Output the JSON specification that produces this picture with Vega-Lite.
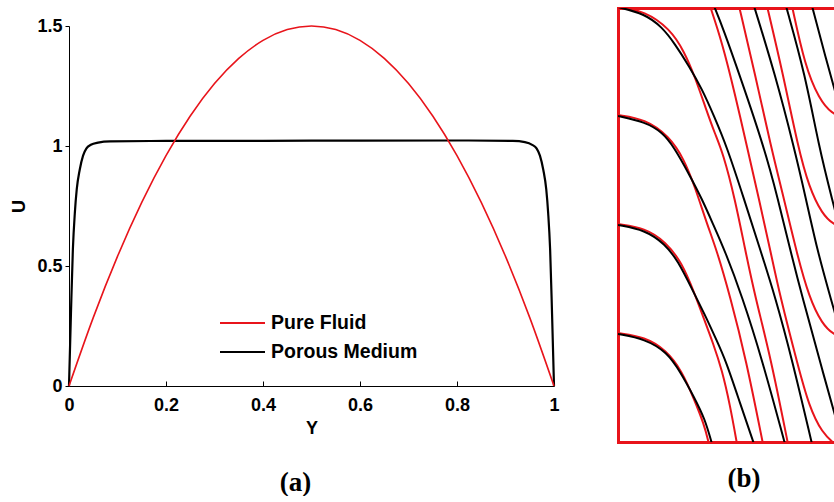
{
  "$schema": "https://vega.github.io/schema/vega-lite/v6.json",
  "background": "white",
  "padding": {"left": 10, "top": 8, "right": 0, "bottom": 0},
  "bounds": "flush",
  "spacing": 64,
  "config": {"view": {"stroke": null}, "font": "Liberation Sans", "axis": {"labelFont": "Liberation Sans", "titleFont": "Liberation Sans"}},
  "resolve": {"scale": {"color": "independent"}, "legend": {"color": "independent"}},
  "hconcat": [
    {
      "width": 485,
      "height": 378,
      "title": {"text": "(a)", "orient": "bottom", "anchor": "middle", "frame": "group", "font": "Liberation Serif", "fontSize": 27, "fontWeight": "bold", "color": "black", "offset": 33, "dx": -16},
      "data": {"values": [
        {"series": "Pure Fluid", "Y": 0, "U": 0},
        {"series": "Pure Fluid", "Y": 0.05, "U": 0.285},
        {"series": "Pure Fluid", "Y": 0.1, "U": 0.54},
        {"series": "Pure Fluid", "Y": 0.15, "U": 0.765},
        {"series": "Pure Fluid", "Y": 0.2, "U": 0.96},
        {"series": "Pure Fluid", "Y": 0.25, "U": 1.125},
        {"series": "Pure Fluid", "Y": 0.3, "U": 1.26},
        {"series": "Pure Fluid", "Y": 0.35, "U": 1.365},
        {"series": "Pure Fluid", "Y": 0.4, "U": 1.44},
        {"series": "Pure Fluid", "Y": 0.45, "U": 1.485},
        {"series": "Pure Fluid", "Y": 0.5, "U": 1.5},
        {"series": "Pure Fluid", "Y": 0.55, "U": 1.485},
        {"series": "Pure Fluid", "Y": 0.6, "U": 1.44},
        {"series": "Pure Fluid", "Y": 0.65, "U": 1.365},
        {"series": "Pure Fluid", "Y": 0.7, "U": 1.26},
        {"series": "Pure Fluid", "Y": 0.75, "U": 1.125},
        {"series": "Pure Fluid", "Y": 0.8, "U": 0.96},
        {"series": "Pure Fluid", "Y": 0.85, "U": 0.765},
        {"series": "Pure Fluid", "Y": 0.9, "U": 0.54},
        {"series": "Pure Fluid", "Y": 0.95, "U": 0.285},
        {"series": "Pure Fluid", "Y": 1, "U": 0},
        {"series": "Porous Medium", "Y": 0, "U": 0},
        {"series": "Porous Medium", "Y": 0.004, "U": 0.3},
        {"series": "Porous Medium", "Y": 0.008, "U": 0.57},
        {"series": "Porous Medium", "Y": 0.012, "U": 0.72},
        {"series": "Porous Medium", "Y": 0.016, "U": 0.82},
        {"series": "Porous Medium", "Y": 0.022, "U": 0.9},
        {"series": "Porous Medium", "Y": 0.029, "U": 0.96},
        {"series": "Porous Medium", "Y": 0.036, "U": 0.99},
        {"series": "Porous Medium", "Y": 0.045, "U": 1.005},
        {"series": "Porous Medium", "Y": 0.06, "U": 1.014},
        {"series": "Porous Medium", "Y": 0.085, "U": 1.019},
        {"series": "Porous Medium", "Y": 0.2, "U": 1.021},
        {"series": "Porous Medium", "Y": 0.5, "U": 1.022},
        {"series": "Porous Medium", "Y": 0.8, "U": 1.023},
        {"series": "Porous Medium", "Y": 0.915, "U": 1.021},
        {"series": "Porous Medium", "Y": 0.94, "U": 1.016},
        {"series": "Porous Medium", "Y": 0.955, "U": 1.005},
        {"series": "Porous Medium", "Y": 0.964, "U": 0.99},
        {"series": "Porous Medium", "Y": 0.971, "U": 0.96},
        {"series": "Porous Medium", "Y": 0.978, "U": 0.9},
        {"series": "Porous Medium", "Y": 0.984, "U": 0.82},
        {"series": "Porous Medium", "Y": 0.988, "U": 0.72},
        {"series": "Porous Medium", "Y": 0.992, "U": 0.57},
        {"series": "Porous Medium", "Y": 0.996, "U": 0.3},
        {"series": "Porous Medium", "Y": 1, "U": 0}
      ]},
      "encoding": {
        "x": {"field": "Y", "type": "quantitative",
          "scale": {"domain": [0, 1], "nice": false},
          "axis": {"title": "Y", "values": [0, 0.2, 0.4, 0.6, 0.8, 1], "format": "~g", "grid": false,
            "domainColor": "black", "tickColor": "black", "tickSize": -5, "labelPadding": 15,
            "labelFontSize": 18, "labelFontWeight": "bold", "labelColor": "black", "labelFlush": false, "labelOverlap": false,
            "titleFontSize": 18, "titleFontWeight": "bold", "titleColor": "black", "titlePadding": 5}},
        "y": {"field": "U", "type": "quantitative",
          "scale": {"domain": [0, 1.5], "range": [378, 18], "nice": false},
          "axis": {"title": "U", "values": [0, 0.5, 1, 1.5], "format": "~g", "grid": false,
            "domainColor": "black", "tickColor": "black", "tickSize": 4, "labelPadding": 3,
            "labelFontSize": 18, "labelFontWeight": "bold", "labelColor": "black", "labelFlush": false, "labelOverlap": false,
            "titleFontSize": 18, "titleFontWeight": "bold", "titleColor": "black", "titlePadding": 8}},
        "color": {"field": "series", "type": "nominal",
          "scale": {"domain": ["Pure Fluid", "Porous Medium"], "range": ["#e8141b", "#000000"]},
          "legend": {"title": null, "orient": "none", "legendX": 150, "legendY": 306, "padding": 0,
            "symbolType": "stroke", "symbolSize": 2025, "symbolStrokeWidth": 2, "clipHeight": 18, "rowPadding": 9,
            "labelFontSize": 19.5, "labelFontWeight": "bold", "labelColor": "black", "labelOffset": 5, "labelFont": "Liberation Sans"}}
      },
      "layer": [
        {"transform": [{"filter": "datum.series === 'Porous Medium'"}], "mark": {"type": "line", "strokeWidth": 2.2, "interpolate": "monotone"}},
        {"transform": [{"filter": "datum.series === 'Pure Fluid'"}], "mark": {"type": "line", "strokeWidth": 1.6, "interpolate": "monotone"}}
      ]
    },
    {
      "width": 216,
      "height": 434,
      "title": {"text": "(b)", "orient": "bottom", "anchor": "middle", "frame": "group", "font": "Liberation Serif", "fontSize": 27, "fontWeight": "bold", "color": "black", "offset": 24, "dx": 18},
      "data": {"values": [
        {"line": "rA", "kind": "Pure Fluid", "i": 0, "x": 0, "y": -1},
        {"line": "rA", "kind": "Pure Fluid", "i": 1, "x": 27, "y": 3},
        {"line": "rA", "kind": "Pure Fluid", "i": 2, "x": 52, "y": 21},
        {"line": "rA", "kind": "Pure Fluid", "i": 3, "x": 66, "y": 43},
        {"line": "rA", "kind": "Pure Fluid", "i": 4, "x": 77, "y": 69},
        {"line": "rA", "kind": "Pure Fluid", "i": 5, "x": 88, "y": 101},
        {"line": "rA", "kind": "Pure Fluid", "i": 6, "x": 97, "y": 126},
        {"line": "rA", "kind": "Pure Fluid", "i": 7, "x": 105, "y": 145},
        {"line": "rA", "kind": "Pure Fluid", "i": 8, "x": 117, "y": 191},
        {"line": "rA", "kind": "Pure Fluid", "i": 9, "x": 127, "y": 241},
        {"line": "rA", "kind": "Pure Fluid", "i": 10, "x": 137, "y": 288},
        {"line": "rA", "kind": "Pure Fluid", "i": 11, "x": 153, "y": 351},
        {"line": "rA", "kind": "Pure Fluid", "i": 12, "x": 170, "y": 436},
        {"line": "rB", "kind": "Pure Fluid", "i": 0, "x": 0, "y": 107},
        {"line": "rB", "kind": "Pure Fluid", "i": 1, "x": 27, "y": 111},
        {"line": "rB", "kind": "Pure Fluid", "i": 2, "x": 51, "y": 128},
        {"line": "rB", "kind": "Pure Fluid", "i": 3, "x": 66, "y": 151},
        {"line": "rB", "kind": "Pure Fluid", "i": 4, "x": 77, "y": 179},
        {"line": "rB", "kind": "Pure Fluid", "i": 5, "x": 89, "y": 216},
        {"line": "rB", "kind": "Pure Fluid", "i": 6, "x": 99, "y": 243},
        {"line": "rB", "kind": "Pure Fluid", "i": 7, "x": 112, "y": 288},
        {"line": "rB", "kind": "Pure Fluid", "i": 8, "x": 128, "y": 351},
        {"line": "rB", "kind": "Pure Fluid", "i": 9, "x": 145, "y": 436},
        {"line": "rC", "kind": "Pure Fluid", "i": 0, "x": 0, "y": 216},
        {"line": "rC", "kind": "Pure Fluid", "i": 1, "x": 27, "y": 220},
        {"line": "rC", "kind": "Pure Fluid", "i": 2, "x": 48, "y": 234},
        {"line": "rC", "kind": "Pure Fluid", "i": 3, "x": 64, "y": 255},
        {"line": "rC", "kind": "Pure Fluid", "i": 4, "x": 76, "y": 284},
        {"line": "rC", "kind": "Pure Fluid", "i": 5, "x": 86, "y": 311},
        {"line": "rC", "kind": "Pure Fluid", "i": 6, "x": 95, "y": 335},
        {"line": "rC", "kind": "Pure Fluid", "i": 7, "x": 104, "y": 362},
        {"line": "rC", "kind": "Pure Fluid", "i": 8, "x": 112, "y": 397},
        {"line": "rC", "kind": "Pure Fluid", "i": 9, "x": 119, "y": 436},
        {"line": "rD", "kind": "Pure Fluid", "i": 0, "x": 0, "y": 325},
        {"line": "rD", "kind": "Pure Fluid", "i": 1, "x": 27, "y": 329},
        {"line": "rD", "kind": "Pure Fluid", "i": 2, "x": 48, "y": 342},
        {"line": "rD", "kind": "Pure Fluid", "i": 3, "x": 64, "y": 363},
        {"line": "rD", "kind": "Pure Fluid", "i": 4, "x": 76, "y": 391},
        {"line": "rD", "kind": "Pure Fluid", "i": 5, "x": 86, "y": 416},
        {"line": "rD", "kind": "Pure Fluid", "i": 6, "x": 91, "y": 436},
        {"line": "rT1", "kind": "Pure Fluid", "i": 0, "x": 92, "y": -2},
        {"line": "rT1", "kind": "Pure Fluid", "i": 1, "x": 104, "y": 34},
        {"line": "rT1", "kind": "Pure Fluid", "i": 2, "x": 117, "y": 86},
        {"line": "rT1", "kind": "Pure Fluid", "i": 3, "x": 129, "y": 139},
        {"line": "rT1", "kind": "Pure Fluid", "i": 4, "x": 141, "y": 191},
        {"line": "rT1", "kind": "Pure Fluid", "i": 5, "x": 152, "y": 241},
        {"line": "rT1", "kind": "Pure Fluid", "i": 6, "x": 162, "y": 288},
        {"line": "rT1", "kind": "Pure Fluid", "i": 7, "x": 180, "y": 358},
        {"line": "rT1", "kind": "Pure Fluid", "i": 8, "x": 191, "y": 398},
        {"line": "rT1", "kind": "Pure Fluid", "i": 9, "x": 204, "y": 425},
        {"line": "rT1", "kind": "Pure Fluid", "i": 10, "x": 218, "y": 437},
        {"line": "rT2", "kind": "Pure Fluid", "i": 0, "x": 121, "y": -2},
        {"line": "rT2", "kind": "Pure Fluid", "i": 1, "x": 137, "y": 66},
        {"line": "rT2", "kind": "Pure Fluid", "i": 2, "x": 153, "y": 139},
        {"line": "rT2", "kind": "Pure Fluid", "i": 3, "x": 166, "y": 191},
        {"line": "rT2", "kind": "Pure Fluid", "i": 4, "x": 179, "y": 246},
        {"line": "rT2", "kind": "Pure Fluid", "i": 5, "x": 191, "y": 289},
        {"line": "rT2", "kind": "Pure Fluid", "i": 6, "x": 204, "y": 316},
        {"line": "rT2", "kind": "Pure Fluid", "i": 7, "x": 216, "y": 327},
        {"line": "rT2", "kind": "Pure Fluid", "i": 8, "x": 227, "y": 330},
        {"line": "rT3", "kind": "Pure Fluid", "i": 0, "x": 149, "y": -2},
        {"line": "rT3", "kind": "Pure Fluid", "i": 1, "x": 165, "y": 66},
        {"line": "rT3", "kind": "Pure Fluid", "i": 2, "x": 180, "y": 139},
        {"line": "rT3", "kind": "Pure Fluid", "i": 3, "x": 191, "y": 179},
        {"line": "rT3", "kind": "Pure Fluid", "i": 4, "x": 204, "y": 206},
        {"line": "rT3", "kind": "Pure Fluid", "i": 5, "x": 216, "y": 217},
        {"line": "rT3", "kind": "Pure Fluid", "i": 6, "x": 227, "y": 220},
        {"line": "rT4", "kind": "Pure Fluid", "i": 0, "x": 174, "y": -2},
        {"line": "rT4", "kind": "Pure Fluid", "i": 1, "x": 187, "y": 58},
        {"line": "rT4", "kind": "Pure Fluid", "i": 2, "x": 201, "y": 91},
        {"line": "rT4", "kind": "Pure Fluid", "i": 3, "x": 214, "y": 106},
        {"line": "rT4", "kind": "Pure Fluid", "i": 4, "x": 227, "y": 110},
        {"line": "bA", "kind": "Porous Medium", "i": 0, "x": 0, "y": -1},
        {"line": "bA", "kind": "Porous Medium", "i": 1, "x": 27, "y": 6},
        {"line": "bA", "kind": "Porous Medium", "i": 2, "x": 44, "y": 19},
        {"line": "bA", "kind": "Porous Medium", "i": 3, "x": 57, "y": 36},
        {"line": "bA", "kind": "Porous Medium", "i": 4, "x": 71, "y": 58},
        {"line": "bA", "kind": "Porous Medium", "i": 5, "x": 84, "y": 81},
        {"line": "bA", "kind": "Porous Medium", "i": 6, "x": 96, "y": 108},
        {"line": "bA", "kind": "Porous Medium", "i": 7, "x": 109, "y": 139},
        {"line": "bA", "kind": "Porous Medium", "i": 8, "x": 126, "y": 191},
        {"line": "bA", "kind": "Porous Medium", "i": 9, "x": 142, "y": 241},
        {"line": "bA", "kind": "Porous Medium", "i": 10, "x": 157, "y": 288},
        {"line": "bA", "kind": "Porous Medium", "i": 11, "x": 174, "y": 351},
        {"line": "bA", "kind": "Porous Medium", "i": 12, "x": 194, "y": 436},
        {"line": "bB", "kind": "Porous Medium", "i": 0, "x": 0, "y": 108},
        {"line": "bB", "kind": "Porous Medium", "i": 1, "x": 27, "y": 114},
        {"line": "bB", "kind": "Porous Medium", "i": 2, "x": 44, "y": 124},
        {"line": "bB", "kind": "Porous Medium", "i": 3, "x": 56, "y": 139},
        {"line": "bB", "kind": "Porous Medium", "i": 4, "x": 71, "y": 166},
        {"line": "bB", "kind": "Porous Medium", "i": 5, "x": 84, "y": 191},
        {"line": "bB", "kind": "Porous Medium", "i": 6, "x": 95, "y": 216},
        {"line": "bB", "kind": "Porous Medium", "i": 7, "x": 107, "y": 243},
        {"line": "bB", "kind": "Porous Medium", "i": 8, "x": 124, "y": 288},
        {"line": "bB", "kind": "Porous Medium", "i": 9, "x": 144, "y": 351},
        {"line": "bB", "kind": "Porous Medium", "i": 10, "x": 167, "y": 436},
        {"line": "bC", "kind": "Porous Medium", "i": 0, "x": 0, "y": 217},
        {"line": "bC", "kind": "Porous Medium", "i": 1, "x": 27, "y": 222},
        {"line": "bC", "kind": "Porous Medium", "i": 2, "x": 47, "y": 236},
        {"line": "bC", "kind": "Porous Medium", "i": 3, "x": 60, "y": 253},
        {"line": "bC", "kind": "Porous Medium", "i": 4, "x": 74, "y": 281},
        {"line": "bC", "kind": "Porous Medium", "i": 5, "x": 87, "y": 307},
        {"line": "bC", "kind": "Porous Medium", "i": 6, "x": 98, "y": 331},
        {"line": "bC", "kind": "Porous Medium", "i": 7, "x": 108, "y": 353},
        {"line": "bC", "kind": "Porous Medium", "i": 8, "x": 122, "y": 395},
        {"line": "bC", "kind": "Porous Medium", "i": 9, "x": 136, "y": 436},
        {"line": "bD", "kind": "Porous Medium", "i": 0, "x": 0, "y": 326},
        {"line": "bD", "kind": "Porous Medium", "i": 1, "x": 27, "y": 331},
        {"line": "bD", "kind": "Porous Medium", "i": 2, "x": 49, "y": 344},
        {"line": "bD", "kind": "Porous Medium", "i": 3, "x": 63, "y": 365},
        {"line": "bD", "kind": "Porous Medium", "i": 4, "x": 76, "y": 389},
        {"line": "bD", "kind": "Porous Medium", "i": 5, "x": 87, "y": 411},
        {"line": "bD", "kind": "Porous Medium", "i": 6, "x": 94, "y": 436},
        {"line": "bT1", "kind": "Porous Medium", "i": 0, "x": 96, "y": -2},
        {"line": "bT1", "kind": "Porous Medium", "i": 1, "x": 105, "y": 20},
        {"line": "bT1", "kind": "Porous Medium", "i": 2, "x": 123, "y": 71},
        {"line": "bT1", "kind": "Porous Medium", "i": 3, "x": 146, "y": 139},
        {"line": "bT1", "kind": "Porous Medium", "i": 4, "x": 160, "y": 191},
        {"line": "bT1", "kind": "Porous Medium", "i": 5, "x": 172, "y": 241},
        {"line": "bT1", "kind": "Porous Medium", "i": 6, "x": 184, "y": 288},
        {"line": "bT1", "kind": "Porous Medium", "i": 7, "x": 204, "y": 361},
        {"line": "bT1", "kind": "Porous Medium", "i": 8, "x": 225, "y": 436},
        {"line": "bT2", "kind": "Porous Medium", "i": 0, "x": 136, "y": -2},
        {"line": "bT2", "kind": "Porous Medium", "i": 1, "x": 157, "y": 66},
        {"line": "bT2", "kind": "Porous Medium", "i": 2, "x": 176, "y": 139},
        {"line": "bT2", "kind": "Porous Medium", "i": 3, "x": 188, "y": 191},
        {"line": "bT2", "kind": "Porous Medium", "i": 4, "x": 199, "y": 241},
        {"line": "bT2", "kind": "Porous Medium", "i": 5, "x": 212, "y": 288},
        {"line": "bT2", "kind": "Porous Medium", "i": 6, "x": 230, "y": 351},
        {"line": "bT3", "kind": "Porous Medium", "i": 0, "x": 168, "y": -2},
        {"line": "bT3", "kind": "Porous Medium", "i": 1, "x": 187, "y": 66},
        {"line": "bT3", "kind": "Porous Medium", "i": 2, "x": 201, "y": 139},
        {"line": "bT3", "kind": "Porous Medium", "i": 3, "x": 214, "y": 191},
        {"line": "bT3", "kind": "Porous Medium", "i": 4, "x": 227, "y": 241},
        {"line": "bT4", "kind": "Porous Medium", "i": 0, "x": 194, "y": -2},
        {"line": "bT4", "kind": "Porous Medium", "i": 1, "x": 208, "y": 51},
        {"line": "bT4", "kind": "Porous Medium", "i": 2, "x": 222, "y": 101}
      ]},
      "layer": [
        {
          "transform": [{"filter": "datum.kind === 'Pure Fluid'"}],
          "mark": {"type": "line", "clip": true, "strokeWidth": 2, "color": "#e8141b", "interpolate": "basis"},
          "encoding": {
            "x": {"field": "x", "type": "quantitative", "scale": {"domain": [0, 216], "nice": false, "zero": false},
              "axis": {"orient": "top", "title": null, "labels": false, "ticks": false, "grid": false, "domainColor": "#e8141b", "domainWidth": 3, "domainCap": "square"}},
            "y": {"field": "y", "type": "quantitative", "scale": {"domain": [0, 434], "reverse": true, "nice": false, "zero": false},
              "axis": {"orient": "left", "title": null, "labels": false, "ticks": false, "grid": false, "domainColor": "#e8141b", "domainWidth": 3, "domainCap": "square"}},
            "detail": {"field": "line", "type": "nominal"},
            "order": {"field": "i", "type": "quantitative"}
          }
        },
        {
          "transform": [{"filter": "datum.kind === 'Porous Medium'"}],
          "mark": {"type": "line", "clip": true, "strokeWidth": 2, "color": "#000000", "interpolate": "basis"},
          "encoding": {
            "x": {"field": "x", "type": "quantitative", "scale": {"domain": [0, 216], "nice": false, "zero": false},
              "axis": {"orient": "bottom", "title": null, "labels": false, "ticks": false, "grid": false, "domainColor": "#e8141b", "domainWidth": 3, "domainCap": "square"}},
            "y": {"field": "y", "type": "quantitative", "scale": {"domain": [0, 434], "reverse": true, "nice": false, "zero": false},
              "axis": {"orient": "left", "title": null, "labels": false, "ticks": false, "grid": false, "domainColor": "#e8141b", "domainWidth": 3, "domainCap": "square"}},
            "detail": {"field": "line", "type": "nominal"},
            "order": {"field": "i", "type": "quantitative"}
          }
        }
      ],
      "resolve": {"axis": {"x": "independent"}}
    }
  ]
}
